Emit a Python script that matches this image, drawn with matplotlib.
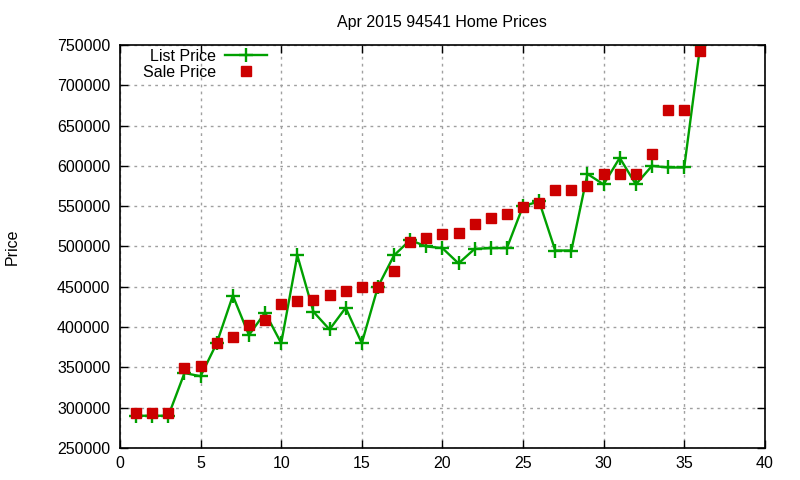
#!/usr/bin/env python3
"""
Monthly home price chart (list vs sale) in a gnuplot-like look.
"""

import matplotlib
matplotlib.use('Agg')
import matplotlib.pyplot as plt

# Data
homes = list(range(1, 37))
list_price = [290000, 290000, 290000, 343000, 339000, 380000, 439000, 390000,
              418000, 380000, 489000, 419000, 397000, 424000, 380000, 450000,
              489000, 508000, 500000, 498000, 479000, 497000, 498000, 498000,
              550000, 556000, 495000, 495000, 590000, 577000, 610000, 577000,
              600000, 598000, 598000, 750000]
sale_price = [294000, 294000, 294000, 349000, 352000, 380000, 388000, 403000,
              409000, 429000, 432000, 434000, 440000, 445000, 450000, 450000,
              470000, 505000, 510000, 515000, 517000, 528000, 535000, 540000,
              549000, 554000, 570000, 570000, 575000, 590000, 590000, 590000,
              615000, 669000, 669000, 742000]

title = 'Apr 2015 94541 Home Prices'
x_ticks = [0, 5, 10, 15, 20, 25, 30, 35, 40]
y_ticks = [250000, 300000, 350000, 400000, 450000, 500000, 550000,
           600000, 650000, 700000, 750000]

plt.rcParams['font.family'] = ['Liberation Sans', 'DejaVu Sans']
plt.rcParams['font.size'] = 11

fig = plt.figure(figsize=(8, 4.8), dpi=100)
ax = fig.add_axes([0.15, 0.0667, 0.806, 0.8396])

ax.plot(homes, list_price, color='#00a000', linewidth=1.7, marker='+',
        markersize=9.5, markeredgewidth=1.7, label='List Price')
ax.plot(homes, sale_price, linestyle='none', color='#cc0000', marker='s',
        markersize=6.8, label='Sale Price')

ax.set_xlim(0, 40)
ax.set_ylim(250000, 750000)
ax.set_xticks(x_ticks)
ax.set_yticks(y_ticks)
ax.set_yticklabels([str(v) for v in y_ticks])
ax.tick_params(direction='in', top=True, right=True, length=6, width=1,
               labelsize=11.5, colors='black')
ax.tick_params(axis='x', pad=6)
ax.tick_params(axis='y', pad=7)
ax.grid(True, color='#a0a0a0', linestyle=(0, (2, 3)), linewidth=1)
for s in ax.spines.values():
    s.set_linewidth(1.2)

ax.set_title(title, fontsize=11.5, pad=13)
ax.set_ylabel('Price', fontsize=11.5, labelpad=27)

leg = ax.legend(loc='upper left', bbox_to_anchor=(0.018, 1.018), frameon=False,
                markerfirst=False, fontsize=11.5, handlelength=2.6,
                handletextpad=0.6, labelspacing=0.05, borderaxespad=0.3)
for t in leg.get_texts():
    t.set_ha('right')
    t.set_position((0, 0))
leg._legend_box.align = 'right'

fig.savefig('out.png', dpi=100)
